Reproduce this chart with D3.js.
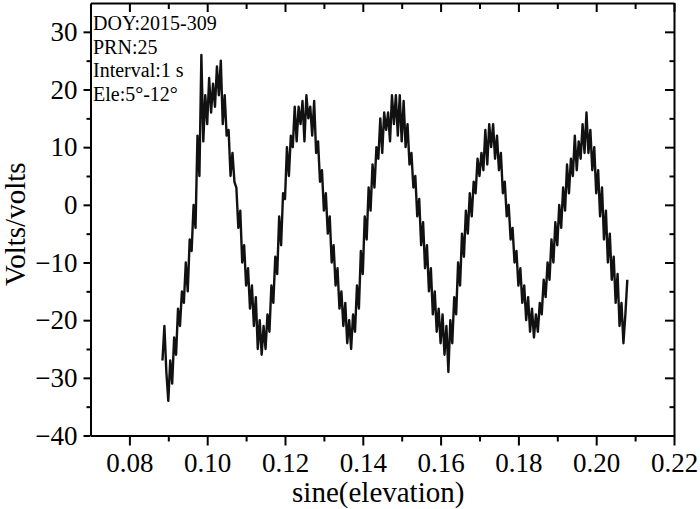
<!DOCTYPE html>
<html>
<head>
<meta charset="utf-8">
<script src="https://cdn.jsdelivr.net/npm/d3@7"></script>
<style>
  body { margin: 0; background: #fff; }
  .axis path, .axis line { stroke: #000; stroke-width: 2; }
</style>
</head>
<body>
<div id="chart"></div>
<script>

// sine(elevation) samples
var sineElev = [
  0.0885, 0.0890, 0.0895, 0.0900, 0.0905, 0.0910, 0.0915, 0.0920, 0.0925, 0.0930,
  0.0935, 0.0940, 0.0945, 0.0950, 0.0955, 0.0960, 0.0965, 0.0970, 0.0975, 0.0980,
  0.0985, 0.0990, 0.0995, 0.1000, 0.1005, 0.1010, 0.1015, 0.1020, 0.1025, 0.1030,
  0.1035, 0.1040, 0.1045, 0.1050, 0.1055, 0.1060, 0.1065, 0.1070, 0.1075, 0.1080,
  0.1085, 0.1090, 0.1095, 0.1100, 0.1105, 0.1110, 0.1115, 0.1120, 0.1125, 0.1130,
  0.1135, 0.1140, 0.1145, 0.1150, 0.1155, 0.1160, 0.1165, 0.1170, 0.1175, 0.1180,
  0.1185, 0.1190, 0.1195, 0.1200, 0.1205, 0.1210, 0.1215, 0.1220, 0.1225, 0.1230,
  0.1235, 0.1240, 0.1245, 0.1250, 0.1255, 0.1260, 0.1265, 0.1270, 0.1275, 0.1280,
  0.1285, 0.1290, 0.1295, 0.1300, 0.1305, 0.1310, 0.1315, 0.1320, 0.1325, 0.1330,
  0.1335, 0.1340, 0.1345, 0.1350, 0.1355, 0.1360, 0.1365, 0.1370, 0.1375, 0.1380,
  0.1385, 0.1390, 0.1395, 0.1400, 0.1405, 0.1410, 0.1415, 0.1420, 0.1425, 0.1430,
  0.1435, 0.1440, 0.1445, 0.1450, 0.1455, 0.1460, 0.1465, 0.1470, 0.1475, 0.1480,
  0.1485, 0.1490, 0.1495, 0.1500, 0.1505, 0.1510, 0.1515, 0.1520, 0.1525, 0.1530,
  0.1535, 0.1540, 0.1545, 0.1550, 0.1555, 0.1560, 0.1565, 0.1570, 0.1575, 0.1580,
  0.1585, 0.1590, 0.1595, 0.1600, 0.1605, 0.1610, 0.1615, 0.1620, 0.1625, 0.1630,
  0.1635, 0.1640, 0.1645, 0.1650, 0.1655, 0.1660, 0.1665, 0.1670, 0.1675, 0.1680,
  0.1685, 0.1690, 0.1695, 0.1700, 0.1705, 0.1710, 0.1715, 0.1720, 0.1725, 0.1730,
  0.1735, 0.1740, 0.1745, 0.1750, 0.1755, 0.1760, 0.1765, 0.1770, 0.1775, 0.1780,
  0.1785, 0.1790, 0.1795, 0.1800, 0.1805, 0.1810, 0.1815, 0.1820, 0.1825, 0.1830,
  0.1835, 0.1840, 0.1845, 0.1850, 0.1855, 0.1860, 0.1865, 0.1870, 0.1875, 0.1880,
  0.1885, 0.1890, 0.1895, 0.1900, 0.1905, 0.1910, 0.1915, 0.1920, 0.1925, 0.1930,
  0.1935, 0.1940, 0.1945, 0.1950, 0.1955, 0.1960, 0.1965, 0.1970, 0.1975, 0.1980,
  0.1985, 0.1990, 0.1995, 0.2000, 0.2005, 0.2010, 0.2015, 0.2020, 0.2025, 0.2030,
  0.2035, 0.2040, 0.2045, 0.2050, 0.2055, 0.2060, 0.2065, 0.2070, 0.2075, 0.2080
];

// Volts/volts at each sample
var volts = [
  -27, -21, -29, -34, -27, -31, -23, -26, -18, -21,
  -15, -17, -10, -15, -6, -8, 0, -4, 12, 5,
  26, 11, 19, 14, 22, 16, 21, 17, 24, 19,
  25, 14, 19, 12, 13, 5, 9, 4, 3, -4,
  -1, -10, -7, -14, -11, -18, -14, -21, -16, -25,
  -20, -26, -21, -25, -19, -22, -14, -17, -9, -12,
  -2, -7, 2, 1, 10, 5, 12, 10, 17, 11,
  17, 14, 18, 11, 19, 15, 17, 12, 18, 9,
  11, 4, 6, -1, 2, -5, -2, -10, -7, -14,
  -11, -18, -15, -21, -17, -24, -20, -25, -19, -22,
  -14, -18, -8, -12, -2, -6, 3, -1, 7, 3,
  10, 8, 15, 9, 16, 13, 16, 11, 19, 14,
  19, 12, 19, 11, 18, 10, 14, 7, 9, 3,
  5, -2, 1, -7, -3, -11, -7, -15, -11, -19,
  -15, -22, -18, -24, -19, -26, -21, -29, -20, -24,
  -16, -19, -10, -14, -5, -9, -1, -5, 2, -2,
  4, 2, 8, 5, 9, 6, 13, 7, 14, 10,
  14, 8, 12, 6, 9, 2, 4, -2, 0, -6,
  -4, -10, -8, -14, -11, -17, -14, -20, -16, -22,
  -18, -23, -19, -22, -17, -19, -13, -16, -10, -13,
  -6, -10, -3, -7, 0, -4, 3, -1, 7, 2,
  8, 5, 12, 6, 11, 8, 14, 9, 16, 9,
  13, 6, 10, 2, 6, -2, 3, -6, -1, -10,
  -5, -13, -9, -17, -12, -21, -17, -24, -19, -13
];

var xMajor = [0.08, 0.10, 0.12, 0.14, 0.16, 0.18, 0.20, 0.22];
var xMinor = [0.09, 0.11, 0.13, 0.15, 0.17, 0.19, 0.21];
var yMajor = [-40, -30, -20, -10, 0, 10, 20, 30];
var yMinor = [-35, -25, -15, -5, 5, 15, 25];
var notes = ["DOY:2015-309", "PRN:25", "Interval:1 s", "Ele:5\u00b0-12\u00b0"];

var serif = "'Liberation Serif', 'Times New Roman', serif";

// geometry
var margin = {top: 3, right: 26, bottom: 73.5, left: 90.5},
    outerWidth = 700,
    outerHeight = 509,
    width = outerWidth - margin.left - margin.right,
    height = outerHeight - margin.top - margin.bottom;

var svg = d3.select("#chart").append("svg")
    .attr("width", outerWidth)
    .attr("height", outerHeight)
    .append("g")
    .attr("transform", "translate(" + margin.left + "," + margin.top + ")");

var x = d3.scaleLinear().domain([0.07, 0.22]).range([0, width]);
var y = d3.scaleLinear().domain([-40, 35]).range([height, 0]);

var fmtY = function(d) { return d < 0 ? "\u2212" + Math.abs(d) : d; };

// minor ticks first, no domain
svg.append("g").attr("class", "axis")
    .call(d3.axisLeft(y).tickValues(yMinor).tickSize(4).tickFormat(""))
    .select(".domain").remove();
svg.append("g").attr("class", "axis")
    .attr("transform", "translate(" + width + ",0)")
    .call(d3.axisLeft(y).tickValues(yMinor).tickSize(4.5).tickFormat(""))
    .select(".domain").remove();
svg.append("g").attr("class", "axis")
    .attr("transform", "translate(0," + height + ")")
    .call(d3.axisBottom(x).tickValues(xMinor).tickSize(6).tickFormat(""))
    .select(".domain").remove();
svg.append("g").attr("class", "axis")
    .call(d3.axisBottom(x).tickValues(xMinor).tickSize(6).tickFormat(""))
    .select(".domain").remove();

// major axes
var yAxis = svg.append("g").attr("class", "axis")
    .call(d3.axisLeft(y).tickValues(yMajor).tickSize(7).tickSizeOuter(0)
      .tickPadding(6).tickFormat(fmtY));

var xAxis = svg.append("g").attr("class", "axis")
    .attr("transform", "translate(0," + height + ")")
    .call(d3.axisBottom(x).tickValues(xMajor).tickSize(10).tickSizeOuter(0)
      .tickPadding(7).tickFormat(d3.format(".2f")));

yAxis.selectAll("text").attr("font-family", serif).attr("font-size", 27).attr("fill", "#000");
xAxis.selectAll("text").attr("font-family", serif).attr("font-size", 27).attr("fill", "#000");

svg.append("g").attr("class", "axis")
    .call(d3.axisBottom(x).tickValues(xMajor).tickSize(9).tickSizeOuter(0).tickFormat(""));

svg.append("g").attr("class", "axis")
    .attr("transform", "translate(" + width + ",0)")
    .call(d3.axisLeft(y).tickValues(yMajor).tickSize(9).tickSizeOuter(0).tickFormat(""));

// series
var line = d3.line()
    .x(function(d, i) { return x(sineElev[i]); })
    .y(function(d) { return y(d); });

svg.append("path")
    .datum(volts)
    .attr("fill", "none")
    .attr("stroke", "#111")
    .attr("stroke-width", 2.4)
    .attr("stroke-linejoin", "round")
    .attr("d", line);

// notes in the corner
svg.selectAll(".note")
    .data(notes)
    .enter().append("text")
    .attr("class", "note")
    .attr("x", 2.5)
    .attr("y", function(d, i) { return 27 + i * 23.7; })
    .attr("font-family", serif)
    .attr("font-size", 20)
    .text(function(d) { return d; });

// axis titles
svg.append("text")
    .attr("text-anchor", "middle")
    .attr("font-family", serif)
    .attr("font-size", 29)
    .attr("x", width / 2 - 4)
    .attr("y", height + 66)
    .text("sine(elevation)");

svg.append("text")
    .attr("text-anchor", "middle")
    .attr("font-family", serif)
    .attr("font-size", 29)
    .attr("transform", "translate(" + (25 - margin.left) + "," + (height / 2 + 5) + ") rotate(-90)")
    .text("Volts/volts");

</script>
</body>
</html>
